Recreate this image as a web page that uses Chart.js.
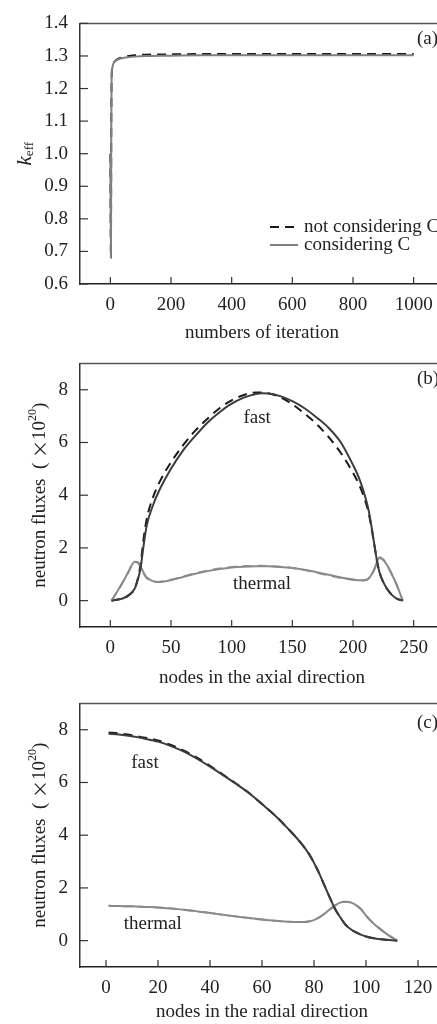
<!DOCTYPE html>
<html>
<head>
<meta charset="utf-8">
<script src="https://cdn.jsdelivr.net/npm/chart.js@4.4.0/dist/chart.umd.min.js"></script>
<style>
  body { margin: 0; background: #fff; overflow: hidden; width: 437px; height: 1024px; position: relative; }
  canvas { position: absolute; left: 0; }
</style>
</head>
<body>
<canvas id="chartA" width="460" height="345" style="top:0px"></canvas>
<canvas id="chartB" width="460" height="350" style="top:340px"></canvas>
<canvas id="chartC" width="460" height="344" style="top:680px"></canvas>
<script>
// ---- (a) keff vs iteration ----
const iterations = [0, 2, 3, 4, 6, 8, 12, 20, 30, 50, 80, 120, 200, 300, 500, 700, 1000];
const keffNotConsideringC = [1.0, 0.68, 1.05, 1.22, 1.26, 1.27, 1.28, 1.288, 1.293, 1.298, 1.302, 1.304, 1.305, 1.306, 1.306, 1.306, 1.306];
const keffConsideringC = [1.0, 0.68, 1.05, 1.22, 1.26, 1.27, 1.28, 1.287, 1.291, 1.295, 1.298, 1.300, 1.301, 1.302, 1.302, 1.302, 1.302];
const iterTicks = [0, 200, 400, 600, 800, 1000];
const keffTicks = [0.6, 0.7, 0.8, 0.9, 1.0, 1.1, 1.2, 1.3, 1.4];

// ---- (b) axial direction ----
const axialNodes = [1, 5, 10, 15, 20, 23, 25, 27, 30, 35, 40, 50, 60, 70, 80, 90, 100, 110, 120, 125, 130, 140, 150, 160, 170, 180, 190, 200, 205, 210, 213, 216, 218, 220, 222, 225, 228, 232, 236, 241];
const axialFastC = [0, 0.03, 0.08, 0.2, 0.45, 0.85, 1.25, 1.95, 2.85, 3.6, 4.15, 5.0, 5.7, 6.25, 6.75, 7.15, 7.47, 7.7, 7.84, 7.87, 7.86, 7.76, 7.57, 7.3, 6.95, 6.55, 6.0, 5.15, 4.65, 3.95, 3.4, 2.6, 2.0, 1.45, 1.05, 0.7, 0.45, 0.22, 0.08, 0];
const axialFastNoC = [0, 0.03, 0.08, 0.2, 0.45, 0.9, 1.4, 2.2, 3.1, 3.9, 4.45, 5.25, 5.9, 6.45, 6.9, 7.3, 7.6, 7.8, 7.9, 7.9, 7.87, 7.72, 7.45, 7.1, 6.7, 6.2, 5.6, 4.85, 4.4, 3.8, 3.3, 2.55, 2.0, 1.45, 1.05, 0.7, 0.45, 0.22, 0.08, 0];
const axialThermalC = [0, 0.3, 0.68, 1.1, 1.48, 1.45, 1.3, 1.1, 0.88, 0.74, 0.71, 0.78, 0.9, 1.02, 1.12, 1.2, 1.26, 1.29, 1.3, 1.3, 1.3, 1.28, 1.24, 1.17, 1.08, 0.98, 0.88, 0.8, 0.77, 0.78, 0.85, 1.05, 1.25, 1.5, 1.65, 1.55, 1.35, 1.0, 0.6, 0];
const axialThermalNoC = [0, 0.3, 0.68, 1.1, 1.47, 1.42, 1.26, 1.06, 0.86, 0.73, 0.71, 0.79, 0.92, 1.04, 1.14, 1.22, 1.28, 1.31, 1.32, 1.32, 1.31, 1.29, 1.24, 1.16, 1.06, 0.96, 0.86, 0.79, 0.76, 0.77, 0.84, 1.02, 1.22, 1.46, 1.62, 1.55, 1.35, 1.0, 0.6, 0];
const axialTicks = [0, 50, 100, 150, 200, 250];

// ---- (c) radial direction ----
const radialNodes = [1, 5, 10, 15, 20, 25, 30, 35, 40, 45, 50, 55, 60, 65, 70, 75, 78, 80, 82, 84, 86, 88, 90, 92, 94, 96, 98, 100, 103, 106, 109, 112];
const radialFastC = [7.85, 7.82, 7.75, 7.66, 7.55, 7.38, 7.17, 6.9, 6.6, 6.28, 5.95, 5.6, 5.18, 4.75, 4.25, 3.7, 3.3, 2.95, 2.55, 2.1, 1.65, 1.22, 0.9, 0.62, 0.44, 0.32, 0.23, 0.16, 0.09, 0.05, 0.02, 0];
const radialFastNoC = [7.9, 7.86, 7.79, 7.7, 7.59, 7.42, 7.21, 6.94, 6.63, 6.3, 5.96, 5.6, 5.18, 4.75, 4.25, 3.7, 3.3, 2.95, 2.55, 2.1, 1.65, 1.22, 0.9, 0.62, 0.44, 0.32, 0.23, 0.16, 0.09, 0.05, 0.02, 0];
const radialThermalC = [1.32, 1.31, 1.3, 1.28, 1.26, 1.22, 1.17, 1.11, 1.05, 0.98, 0.92, 0.86, 0.8, 0.75, 0.72, 0.71, 0.73, 0.78, 0.88, 1.02, 1.18, 1.33, 1.44, 1.48, 1.45, 1.36, 1.2, 0.95, 0.64, 0.4, 0.18, 0];
const radialThermalNoC = [1.32, 1.31, 1.3, 1.28, 1.26, 1.22, 1.17, 1.11, 1.05, 0.98, 0.92, 0.86, 0.8, 0.75, 0.72, 0.71, 0.73, 0.78, 0.88, 1.02, 1.18, 1.33, 1.44, 1.48, 1.45, 1.36, 1.2, 0.95, 0.64, 0.4, 0.18, 0];
const radialTicks = [0, 20, 40, 60, 80, 100, 120];
const fluxTicks = [0, 2, 4, 6, 8];

const FONT = 'Liberation Serif';
const SIZE = 19;
const TEXT = '#222';
const DASH = [9, 6];

const toPoints = (xs, ys) => xs.map((x, i) => ({ x: x, y: ys[i] }));

// draws rotated text made of several runs (for sub/superscripts)
const drawRotated = (ctx, runs, cx, cy) => {
    ctx.save();
    ctx.translate(cx, cy);
    ctx.rotate(-Math.PI / 2);
    let total = 0;
    runs.forEach(r => { ctx.font = r.font; total += ctx.measureText(r.t).width; });
    let x = -total / 2;
    ctx.fillStyle = TEXT;
    ctx.textBaseline = 'middle';
    ctx.textAlign = 'left';
    runs.forEach(r => {
        ctx.font = r.font;
        ctx.fillText(r.t, x, r.dy || 0);
        x += ctx.measureText(r.t).width;
    });
    ctx.restore();
};

const decorPlugin = {
    id: 'decor',
    afterDatasetsDraw(chart, args, opts) {
        const ctx = chart.ctx;
        const area = chart.chartArea;
        const xs = chart.scales.x, ys = chart.scales.y;
        ctx.save();
        // top frame line
        ctx.strokeStyle = '#555';
        ctx.lineWidth = 1.5;
        ctx.beginPath();
        ctx.moveTo(area.left, area.top);
        ctx.lineTo(area.right, area.top);
        ctx.stroke();
        // inward tick marks
        ctx.strokeStyle = '#333';
        ctx.lineWidth = 1.2;
        ys.ticks.forEach(t => {
            const p = ys.getPixelForValue(t.value);
            ctx.beginPath(); ctx.moveTo(area.left, p); ctx.lineTo(area.left + 8, p); ctx.stroke();
        });
        xs.ticks.forEach(t => {
            const p = xs.getPixelForValue(t.value);
            ctx.beginPath(); ctx.moveTo(p, area.bottom); ctx.lineTo(p, area.bottom - 7); ctx.stroke();
        });
        // panel tag
        ctx.fillStyle = TEXT;
        ctx.font = SIZE + 'px ' + FONT;
        ctx.textBaseline = 'middle';
        ctx.textAlign = 'left';
        ctx.fillText(opts.tag, area.right - 27, area.top + opts.tagDy);
        // curve annotations
        ctx.textAlign = 'center';
        (opts.notes || []).forEach(n => {
            ctx.fillText(n.text, xs.getPixelForValue(n.x), ys.getPixelForValue(n.y));
        });
        // legend
        if (opts.legend) {
            chart.data.datasets.forEach((ds, i) => {
                const ly = opts.legend.y + i * opts.legend.gap;
                ctx.strokeStyle = ds.borderColor;
                ctx.lineWidth = ds.borderWidth;
                ctx.setLineDash(ds.borderDash || []);
                ctx.beginPath();
                ctx.moveTo(opts.legend.x, ly);
                ctx.lineTo(opts.legend.x + 28, ly);
                ctx.stroke();
                ctx.setLineDash([]);
                ctx.fillStyle = TEXT;
                ctx.textAlign = 'left';
                ctx.fillText(ds.label, opts.legend.x + 34, ly);
            });
        }
        ctx.restore();
        drawRotated(ctx, opts.yTitle, opts.yTitleX, (area.top + area.bottom) / 2);
    }
};

const makePanel = (id, datasets, cfg) => {
    const canvas = document.getElementById(id);
    return new Chart(canvas.getContext('2d'), {
        type: 'line',
        data: { datasets: datasets },
        options: {
            responsive: false,
            animation: false,
            layout: { padding: { top: cfg.top, right: 16, left: 0, bottom: 0 } },
            elements: { point: { radius: 0 }, line: { cubicInterpolationMode: 'monotone' } },
            plugins: {
                legend: { display: false },
                tooltip: { enabled: false },
                decor: cfg.decor
            },
            scales: {
                x: {
                    type: 'linear',
                    min: cfg.xMin, max: cfg.xMax,
                    afterBuildTicks: s => { s.ticks = cfg.xTicks.map(v => ({ value: v })); },
                    afterFit: s => { s.height = canvas.height - cfg.bottom; },
                    grid: { display: false, drawTicks: false },
                    border: { display: true, color: '#222', width: 1.5 },
                    ticks: { color: TEXT, font: { family: FONT, size: SIZE }, padding: 10, maxRotation: 0, autoSkip: false, callback: v => String(v) },
                    title: { display: true, text: cfg.xTitle, color: TEXT, font: { family: FONT, size: SIZE }, padding: { top: 0, bottom: 1 } }
                },
                y: {
                    type: 'linear',
                    min: cfg.yMin, max: cfg.yMax,
                    afterBuildTicks: s => { s.ticks = cfg.yTicks.map(v => ({ value: v })); },
                    afterFit: s => { s.width = 80; },
                    grid: { display: false, drawTicks: false },
                    border: { display: true, color: '#333', width: 1.5 },
                    ticks: { color: TEXT, font: { family: FONT, size: SIZE }, padding: 12, callback: cfg.yFormat }
                }
            }
        },
        plugins: [decorPlugin]
    });
};

const fluxTitle = [
    { t: 'neutron fluxes  ( ', font: SIZE + 'px ' + FONT },
    { t: '×', font: '18px "Noto Sans CJK SC"' },
    { t: '10', font: SIZE + 'px ' + FONT },
    { t: '20', font: '12px ' + FONT, dy: -7 },
    { t: ')', font: SIZE + 'px ' + FONT }
];

makePanel('chartA', [
    { label: 'not considering C', data: toPoints(iterations, keffNotConsideringC), borderColor: '#1a1a1a', borderWidth: 2, borderDash: DASH, order: 1 },
    { label: 'considering C', data: toPoints(iterations, keffConsideringC), borderColor: '#808080', borderWidth: 2, order: 0 }
], {
    top: 14, bottom: 284, xMin: -100, xMax: 1100, yMin: 0.6, yMax: 1.4,
    xTicks: iterTicks, yTicks: keffTicks, yFormat: v => v.toFixed(1),
    xTitle: 'numbers of iteration',
    decor: {
        tag: '(a)', tagDy: 16,
        legend: { x: 270, y: 227, gap: 18 },
        yTitle: [
            { t: 'k', font: 'italic 21px ' + FONT },
            { t: 'eff', font: '13px ' + FONT, dy: 5 }
        ],
        yTitleX: 25
    }
});

makePanel('chartB', [
    { label: 'fast, not considering C', data: toPoints(axialNodes, axialFastNoC), borderColor: '#1a1a1a', borderWidth: 2, borderDash: DASH, order: 1 },
    { label: 'thermal, not considering C', data: toPoints(axialNodes, axialThermalNoC), borderColor: '#999', borderWidth: 2, borderDash: DASH, order: 1 },
    { label: 'fast, considering C', data: toPoints(axialNodes, axialFastC), borderColor: '#3c3c3c', borderWidth: 2, order: 0 },
    { label: 'thermal, considering C', data: toPoints(axialNodes, axialThermalC), borderColor: '#8a8a8a', borderWidth: 2, order: 0 }
], {
    top: 16, bottom: 287, xMin: -25, xMax: 275, yMin: -1, yMax: 9,
    xTicks: axialTicks, yTicks: fluxTicks, yFormat: v => String(v),
    xTitle: 'nodes in the axial direction',
    decor: {
        tag: '(b)', tagDy: 16,
        notes: [{ text: 'fast', x: 121, y: 6.94 }, { text: 'thermal', x: 125, y: 0.63 }],
        yTitle: fluxTitle, yTitleX: 40
    }
});

makePanel('chartC', [
    { label: 'fast, not considering C', data: toPoints(radialNodes, radialFastNoC), borderColor: '#1a1a1a', borderWidth: 2, borderDash: DASH, order: 1 },
    { label: 'thermal, not considering C', data: toPoints(radialNodes, radialThermalNoC), borderColor: '#999', borderWidth: 2, borderDash: DASH, order: 1 },
    { label: 'fast, considering C', data: toPoints(radialNodes, radialFastC), borderColor: '#3c3c3c', borderWidth: 2, order: 0 },
    { label: 'thermal, considering C', data: toPoints(radialNodes, radialThermalC), borderColor: '#8a8a8a', borderWidth: 2, order: 0 }
], {
    top: 15, bottom: 287, xMin: -10, xMax: 130, yMin: -1, yMax: 9,
    xTicks: radialTicks, yTicks: fluxTicks, yFormat: v => String(v),
    xTitle: 'nodes in the radial direction',
    decor: {
        tag: '(c)', tagDy: 20,
        notes: [{ text: 'fast', x: 15, y: 6.72 }, { text: 'thermal', x: 18, y: 0.63 }],
        yTitle: fluxTitle, yTitleX: 40
    }
});
</script>
</body>
</html>
